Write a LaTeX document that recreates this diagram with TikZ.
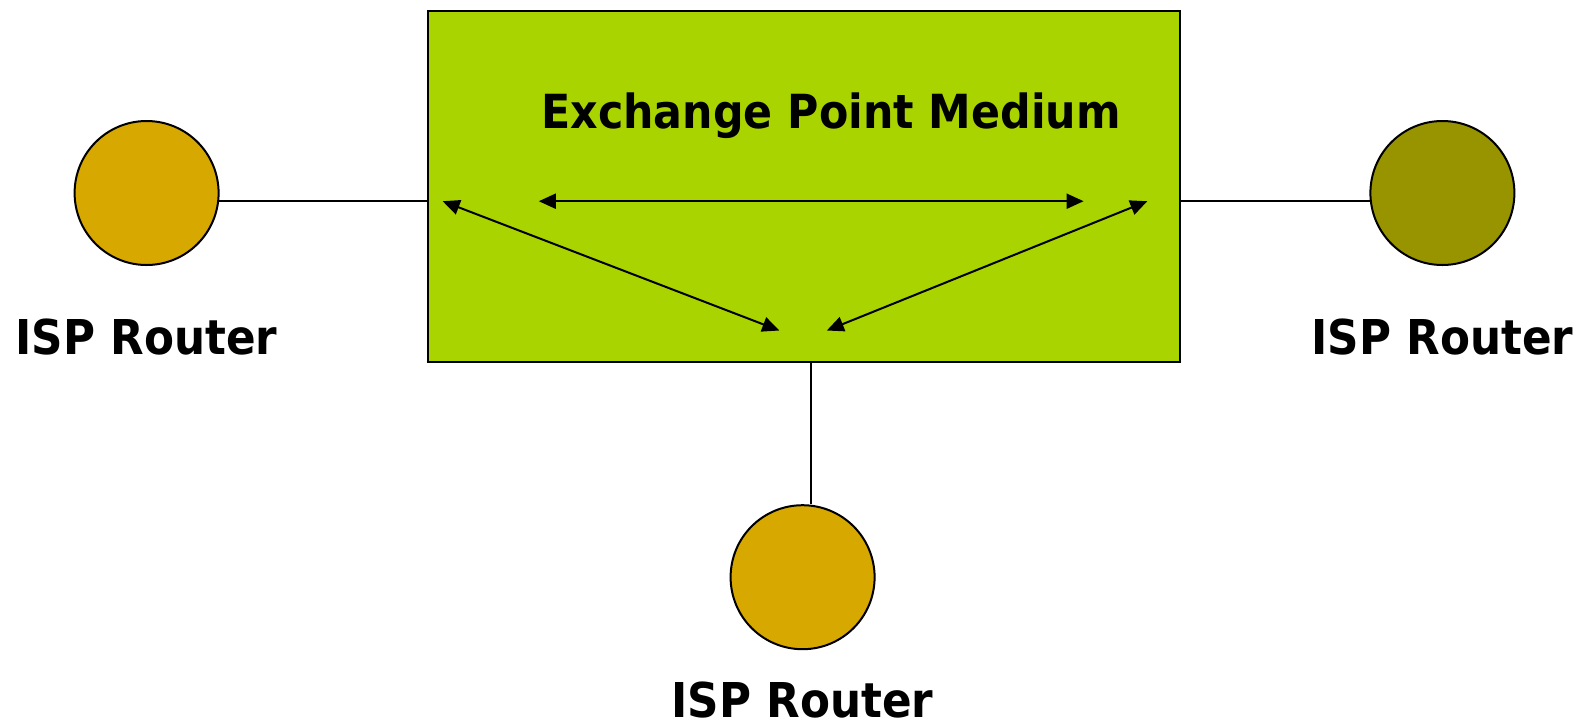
\documentclass[tikz,border=0pt]{standalone}
\usepackage{fontspec}
\setmainfont{DejaVu Sans}[FakeStretch=0.91]
\usetikzlibrary{arrows.meta}
\definecolor{medgreen}{RGB}{170,212,0}
\definecolor{ispgold}{RGB}{214,168,0}
\definecolor{ispolive}{RGB}{151,148,0}
\begin{document}
\begin{tikzpicture}[x=1pt,y=-1pt,
  router/.style={circle,draw=black,line width=2pt,minimum size=144pt,inner sep=0pt},
  lbl/.style={font=\bfseries\fontsize{48}{50}\selectfont,inner sep=0pt},
  link/.style={line width=2pt},
  dbl/.style={line width=2pt,{Triangle[length=17pt,width=15pt]}-{Triangle[length=17pt,width=15pt]}}]
\useasboundingbox (0,0) rectangle (1585,724);
\node[draw=black,line width=2pt,fill=medgreen,minimum width=752pt,minimum height=350.8pt,inner sep=0pt,anchor=north west] (medium) at (426.6,10.1) {};
\node[lbl,font=\bfseries\fontsize{47}{50}\selectfont] (title) at (831,116) {Exchange Point Medium};
\node[router,fill=ispgold] (r1) at (146.6,193) {};
\node[router,fill=ispolive] (r2) at (1442.4,193) {};
\node[router,fill=ispgold] (r3) at (802.6,577.2) {};
\node[lbl] (l1) at (146.6,336.6) {ISP Router};
\node[lbl] (l2) at (1442.4,336.6) {ISP Router};
\node[lbl] (l3) at (802.6,700) {ISP Router};
\coordinate (pl) at (442.7,201.2);
\coordinate (pr) at (1147.3,201.2);
\coordinate (hl) at (538.8,201.2);
\coordinate (hr) at (1083.6,201.2);
\coordinate (bl) at (779.3,330.5);
\coordinate (br) at (826.8,330.5);
\draw[link] (r1.east |- pl) ++(-1,0) coordinate (r1e) -- (r1e -| medium.west);
\draw[link] (r2.west |- pr) ++(1,0) coordinate (r2w) -- (r2w -| medium.east);
\draw[link] (medium.south -| 810.7,0) -- (r3.north -| 810.7,0);
\draw[dbl] (hl) -- (hr);
\draw[dbl] (pl) -- (bl);
\draw[dbl] (pr) -- (br);
\end{tikzpicture}
\end{document}
